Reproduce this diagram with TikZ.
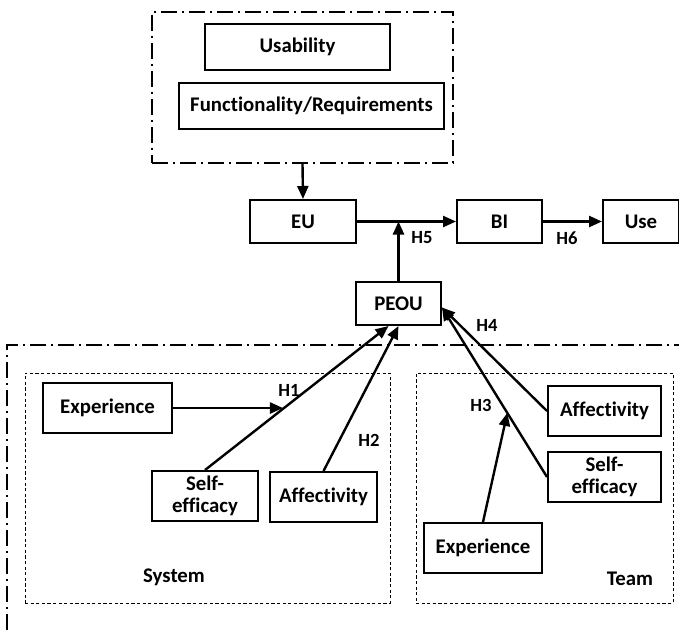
\documentclass[tikz,border=0pt]{standalone}
\usepackage{fontspec}
\setmainfont[Ligatures=NoCommon]{Carlito}
\usetikzlibrary{arrows.meta}
\begin{document}
\begin{tikzpicture}[x=0.5pt,y=-0.5pt,
  font=\fontsize{10.4}{11}\selectfont\bfseries,
  box/.style={draw,line width=1pt,inner sep=1pt,align=center},
  grpbox/.style={draw,line width=1pt,dash pattern=on 8pt off 2.5pt on 1pt off 2.5pt},
  subbox/.style={draw,line width=0.4pt,dash pattern=on 1.6pt off 1.2pt},
  hlab/.style={font=\fontsize{9.3}{10}\selectfont\bfseries},
  link/.style={line width=1.2pt,-{Triangle[length=6.5pt,width=5.5pt]}},
  plain/.style={line width=1.2pt}]
  \useasboundingbox (0,0) rectangle (679,634);

  % top group
  \node[grpbox,minimum width=150.5pt,minimum height=75.5pt] (reqbox) at (302.5,87.5) {};
  \node[box,minimum width=92.5pt,minimum height=23pt] (usab) at (297.5,47) {Usability};
  \node[box,minimum width=132.5pt,minimum height=23pt] (func) at (311.5,106) {Functionality/Requirements};

  % main chain
  \node[box,minimum width=53pt,minimum height=21.5pt] (eu) at (303,221.5) {EU};
  \node[box,minimum width=42.5pt,minimum height=21.5pt] (bi) at (499.5,221.5) {BI};
  \node[box,minimum width=38pt,minimum height=21.5pt] (use) at (641,221.5) {Use};
  \node[box,minimum width=42.5pt,minimum height=21.5pt] (peou) at (398.5,303.5) {PEOU};

  \draw[link] (reqbox.south) -- (eu.north);
  \draw[link] (eu.east) -- (bi.west);
  \draw[link] (bi.east) -- (use.west);
  \draw[link] (peou.north) -- (peou.north |- eu.east);
  \node[hlab] (h5) at (422,238) {H5};
  \node[hlab] (h6) at (567,238) {H6};

  % bottom group (runs off the page)
  \draw[grpbox] (690,345) -- (7,345) -- (7,650);
  \node[subbox,minimum width=182.5pt,minimum height=115pt] (sysbox) at (207.5,488) {};
  \node[subbox,minimum width=128.5pt,minimum height=115pt] (teambox) at (544.5,488) {};
  \node (syslab) at (174,577) {System};
  \node (teamlab) at (630,579) {Team};

  % system
  \node[box,minimum width=64.5pt,minimum height=25pt] (sexp) at (107.5,408) {Experience};
  \node[box,minimum width=53pt,minimum height=25pt] (sself) at (205,496) {Self-\\efficacy};
  \node[box,minimum width=53.5pt,minimum height=25pt] (saff) at (323.5,497) {Affectivity};
  \draw[link] (sself.north) -- coordinate[pos=0.425] (h1pt) ([xshift=-5pt]peou.south);
  \draw[link] (saff.north) -- (peou.south);
  \draw[link] (sexp.east) -- (h1pt |- sexp.east);
  \node[hlab] (h1) at (289,390) {H1};
  \node[hlab] (h2) at (369,440) {H2};

  % team
  \node[box,minimum width=56.5pt,minimum height=25pt] (taff) at (604.5,411) {Affectivity};
  \node[box,minimum width=56.5pt,minimum height=25pt] (tself) at (604.5,477) {Self-\\efficacy};
  \node[box,minimum width=59pt,minimum height=25pt] (texp) at (483,548) {Experience};
  \draw[link] (taff.west) -- ([yshift=-2pt]peou.east);
  \draw[link] (tself.west) -- coordinate[pos=0.378] (h3pt) ([yshift=-2pt]peou.east);
  \draw[link] (texp.north) -- (h3pt);
  \node[hlab] (h3) at (481,405) {H3};
  \node[hlab] (h4) at (487,325) {H4};
\end{tikzpicture}
\end{document}
